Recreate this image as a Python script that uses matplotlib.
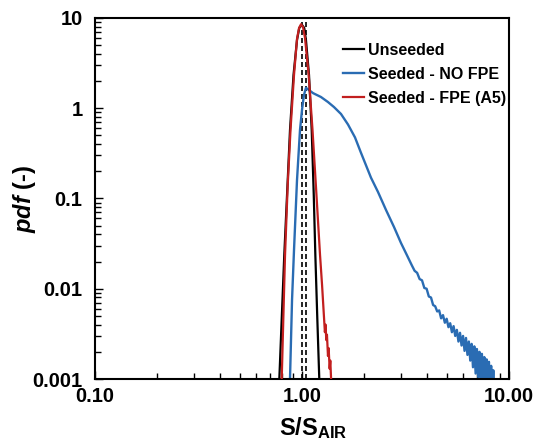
import matplotlib
matplotlib.use('Agg')
import matplotlib.pyplot as plt
from matplotlib.ticker import LogLocator, FixedLocator, FixedFormatter, NullFormatter

plt.rcParams['font.family'] = ['Liberation Sans', 'DejaVu Sans']
plt.rcParams['font.weight'] = 'bold'
plt.rcParams['mathtext.fontset'] = 'custom'
plt.rcParams['mathtext.rm'] = 'Liberation Sans:bold'
plt.rcParams['mathtext.bf'] = 'Liberation Sans:bold'
plt.rcParams['mathtext.bfit'] = 'Liberation Sans:italic:bold'
plt.rcParams['mathtext.it'] = 'Liberation Sans:italic:bold'

# Unseeded (black)
unseeded_x = [0.770, 0.777, 0.821, 0.851, 0.875, 0.910, 0.946, 0.970, 1.000,
              1.025, 1.045, 1.081, 1.114, 1.140, 1.160, 1.185, 1.212, 1.220]
unseeded_y = [0.0007, 0.001, 0.0237, 0.141, 0.574, 2.34, 5.70, 7.75, 8.37,
              7.75, 5.70, 2.34, 0.574, 0.107, 0.0237, 0.00486, 0.001, 0.0007]

# Seeded - FPE (A5) (red)
fpe_x = [0.795, 0.798, 0.812, 0.828, 0.853, 0.880, 0.915, 0.946, 0.968, 0.989,
         1.011, 1.034, 1.077, 1.124, 1.169, 1.222, 1.250, 1.277, 1.290, 1.300,
         1.310, 1.320, 1.335, 1.345, 1.360, 1.370, 1.385, 1.390]
fpe_y = [0.0007, 0.001, 0.00451, 0.0237, 0.141, 0.574, 2.34, 5.85, 7.75, 8.51,
         7.95, 6.00, 2.34, 0.574, 0.131, 0.0237, 0.0110, 0.00486, 0.0033, 0.0040,
         0.0027, 0.0031, 0.0018, 0.0022, 0.0013, 0.0016, 0.0009, 0.0006]

# Seeded - NO FPE (blue)
nofpe_x = [0.870, 0.875, 0.895, 0.915, 0.946, 0.978, 1.000, 1.022, 1.045, 1.081,
           1.130, 1.235, 1.335, 1.427, 1.543, 1.668, 1.803, 1.928, 2.154, 2.329,
           2.546, 2.783, 3.008, 3.2, 3.4, 3.5, 3.6, 3.7, 3.8, 3.9, 4.0, 4.1, 4.2, 4.3,
           4.4, 4.5, 4.6, 4.7, 4.8, 4.9, 5.0, 5.1, 5.2, 5.3, 5.4, 5.5, 5.6, 5.7,
           5.8, 5.9, 6.0, 6.1, 6.2, 6.3, 6.4, 6.5, 6.6, 6.7, 6.8, 6.9, 7.0, 7.1,
           7.2, 7.3, 7.4, 7.5, 7.6, 7.7, 7.8, 7.9, 8.0, 8.1, 8.2, 8.3, 8.4, 8.5]
nofpe_y = [0.0006, 0.001, 0.0075, 0.0269, 0.160, 0.574, 0.957, 1.40, 1.68, 1.59,
           1.47, 1.33, 1.17, 1.03, 0.863, 0.660, 0.475, 0.320, 0.170, 0.118,
           0.0746, 0.0483, 0.0321, 0.0240, 0.0180, 0.0158, 0.0150, 0.0128, 0.0124,
           0.0102, 0.0100, 0.0082, 0.0080, 0.0066,
           0.00640, 0.00560, 0.00575, 0.00470, 0.00510, 0.00420, 0.00465, 0.00375,
           0.00415, 0.00330, 0.00385, 0.00300, 0.00350, 0.00260, 0.00325, 0.00235,
           0.00300, 0.00205, 0.00285, 0.00185, 0.00260, 0.00160, 0.00245, 0.00135,
           0.00230, 0.00115, 0.00215, 0.00105, 0.00200, 0.00090, 0.00190, 0.00088,
           0.00175, 0.00082, 0.00165, 0.00078, 0.00155, 0.00080, 0.00140, 0.00075,
           0.00125, 0.00070]

mean_lines = [1.00, 1.04]

xticks = [0.1, 1, 10]
xtick_labels = ['0.10', '1.00', '10.00']
yticks = [0.001, 0.01, 0.1, 1, 10]
ytick_labels = ['0.001', '0.01', '0.1', '1', '10']

blue = '#2a6cb3'
red = '#c21f1f'

fig = plt.figure(figsize=(5.39, 4.48), dpi=100)
ax = fig.add_axes([0.1763, 0.154, 0.768, 0.806])

for xm in mean_lines:
    ax.axvline(xm, color='black', lw=1.2, ls=(0, (3, 1.8)), zorder=1)

ax.plot(nofpe_x, nofpe_y, color=blue, lw=1.7, label='Seeded - NO FPE', zorder=2)
ax.plot(unseeded_x, unseeded_y, color='black', lw=1.6, label='Unseeded', zorder=3)
ax.plot(fpe_x, fpe_y, color=red, lw=1.6, label='Seeded - FPE (A5)', zorder=4)

ax.set_xscale('log')
ax.set_yscale('log')
ax.set_xlim(0.1, 10)
ax.set_ylim(0.001, 10)

ax.xaxis.set_major_locator(FixedLocator(xticks))
ax.xaxis.set_major_formatter(FixedFormatter(xtick_labels))
ax.xaxis.set_minor_locator(LogLocator(base=10, subs=range(2, 10)))
ax.xaxis.set_minor_formatter(NullFormatter())
ax.yaxis.set_major_locator(FixedLocator(yticks))
ax.yaxis.set_major_formatter(FixedFormatter(ytick_labels))
ax.yaxis.set_minor_locator(LogLocator(base=10, subs=range(2, 10)))
ax.yaxis.set_minor_formatter(NullFormatter())

ax.tick_params(which='both', direction='in', top=False, right=False, width=1)
ax.tick_params(which='major', length=6)
ax.tick_params(which='minor', length=4)
ax.tick_params(axis='x', which='major', labelsize=14.5, pad=6)
ax.tick_params(axis='y', which='major', labelsize=14.5, pad=9)
for s in ax.spines.values():
    s.set_linewidth(1.5)

ax.set_xlabel(r'$\mathbf{S/S_{AIR}}$', fontsize=17)
ax.xaxis.set_label_coords(0.528, -0.1)
ax.set_ylabel(r'$\mathbfit{pdf}$ (-)', fontsize=17, fontweight='bold')
ax.yaxis.set_label_coords(-0.138, 0.5)

h, l = ax.get_legend_handles_labels()
order = [1, 0, 2]
ax.legend([h[i] for i in order], [l[i] for i in order], loc='upper left',
          bbox_to_anchor=(0.583, 0.949), frameon=False, fontsize=11.5,
          handlelength=1.3, handletextpad=0.3, labelspacing=0.57,
          borderaxespad=0)

fig.savefig('out.png', dpi=100)
